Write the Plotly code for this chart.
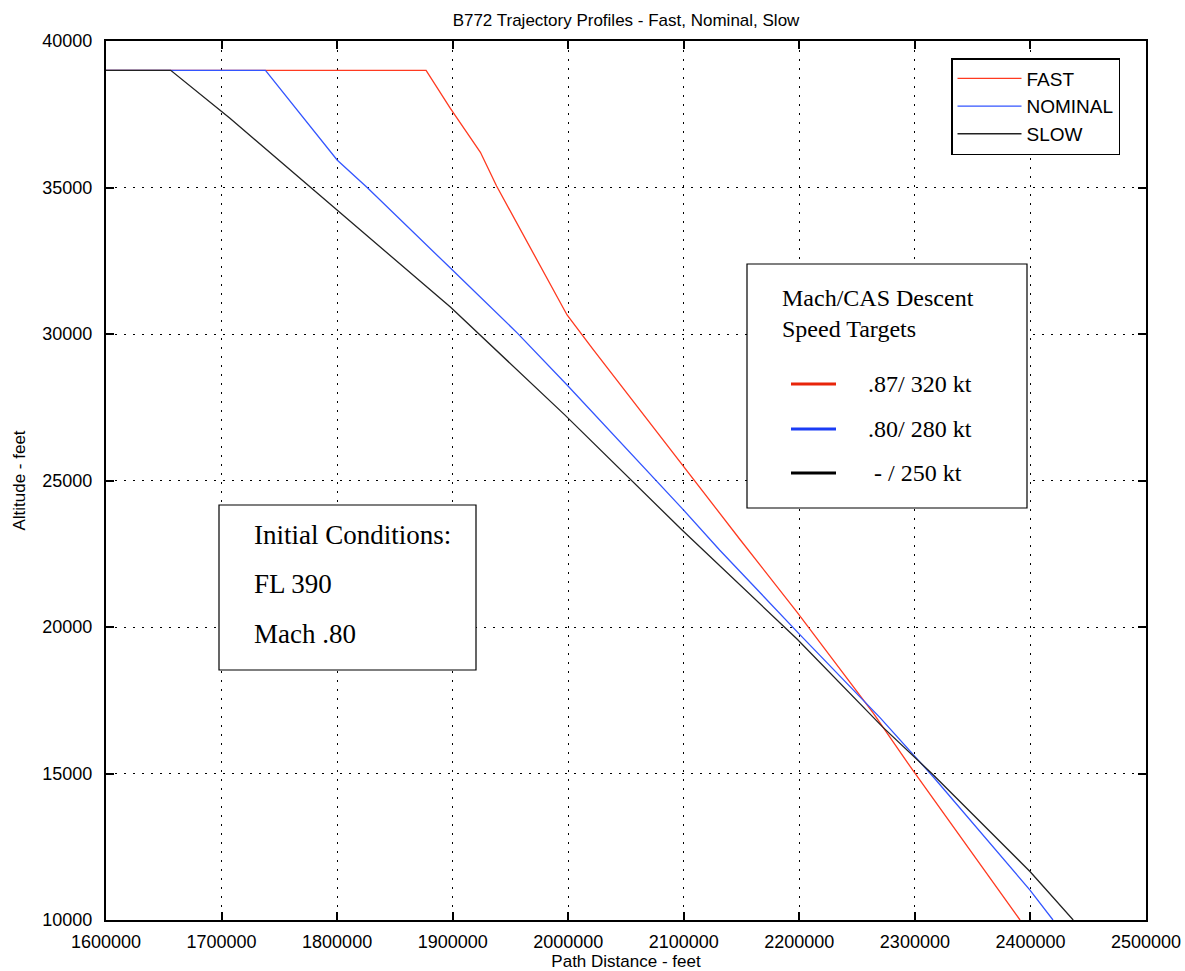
import plotly.graph_objects as go

# ---- data ----
fast_dist = [1600000, 1877000, 1898000, 1924000, 1938000, 1999000, 2021000, 2098500,
             2149000, 2198000, 2264000, 2298000, 2391000]
fast_alt = [39000, 39000, 37700, 36200, 35050, 30650, 29500, 25530,
            22970, 20510, 17060, 15120, 10000]

nominal_dist = [1600000, 1738000, 1800000, 1826000, 1898000, 1956000, 1999000, 2077000,
                2098500, 2131000, 2199000, 2270000, 2316000, 2399600, 2419500]
nominal_alt = [39000, 39000, 35940, 35000, 32250, 30030, 28260, 24950,
               24050, 22630, 19800, 16900, 14880, 11020, 10000]

slow_dist = [1600000, 1656000, 1707000, 1798000, 1898000, 1997000, 2056000,
             2098500, 2198000, 2272000, 2316000, 2400000, 2437000]
slow_alt = [39000, 39000, 37370, 34300, 30920, 27240, 24950,
            23310, 19590, 16590, 14950, 11640, 10000]

x_ticks = [1600000, 1700000, 1800000, 1900000, 2000000, 2100000, 2200000, 2300000, 2400000, 2500000]
y_ticks = [10000, 15000, 20000, 25000, 30000, 35000, 40000]

speed_labels = [".87/ 320 kt", ".80/ 280 kt", "&nbsp;- / 250 kt"]
init_lines = ["Initial Conditions:", "FL 390", "Mach .80"]

SANS = "Liberation Sans, Arial, sans-serif"
SERIF = "Liberation Serif, Times New Roman, serif"

# page body margin is removed by the post script below, so the figure fills the window exactly
W, H = 1185, 971
ML, MR, MT, MB = 106, 39, 41, 51

fig = go.Figure()
fig.add_trace(go.Scatter(x=fast_dist, y=fast_alt, mode="lines", name="FAST",
                         line=dict(color="#ff3a20", width=1.3)))
fig.add_trace(go.Scatter(x=nominal_dist, y=nominal_alt, mode="lines", name="NOMINAL",
                         line=dict(color="#3355ff", width=1.3)))
fig.add_trace(go.Scatter(x=slow_dist, y=slow_alt, mode="lines", name="SLOW",
                         line=dict(color="#222222", width=1.3)))

axis_common = dict(
    showgrid=True, gridcolor="#000000", gridwidth=1, griddash="2px,7px",
    showline=True, linecolor="#000000", linewidth=2, mirror="ticks",
    ticks="inside", ticklen=8, tickwidth=1.5, tickcolor="#000000",
    tickfont=dict(family=SANS, size=18, color="#000000"),
    zeroline=False, tickformat="d", automargin=False,
)

fig.update_layout(
    width=W, height=H, autosize=False,
    margin=dict(l=ML, r=MR, t=MT, b=MB),
    paper_bgcolor="white", plot_bgcolor="white",
    title=dict(text="B772 Trajectory Profiles - Fast, Nominal, Slow",
               x=((106 + 1146) / 2) / W, xanchor="center",
               y=1 - 20 / H, yanchor="middle",
               font=dict(family=SANS, size=17, color="#000000")),
    xaxis=dict(range=[1600000, 2500000], tickvals=x_ticks, ticklabelstandoff=4,
               title=dict(text="Path Distance - feet", standoff=6,
                          font=dict(family=SANS, size=17, color="#000000")),
               **axis_common),
    yaxis=dict(range=[10000, 40000], tickvals=y_ticks, ticklabelstandoff=8,
               title=dict(text="Altitude - feet", standoff=12,
                          font=dict(family=SANS, size=17, color="#000000")),
               **axis_common),
    showlegend=True,
    legend=dict(x=(951 - 106) / 1040, y=(920 - 58) / 879, xanchor="left", yanchor="top",
                bordercolor="#000000", borderwidth=1.5, bgcolor="white",
                font=dict(family=SANS, size=19, color="#000000"),
                itemwidth=64, tracegroupgap=0),
)

def px_x(px):
    return (px - 106) / 1040

def px_y(py):
    return (920 - py) / 879

# Speed targets box
fig.add_shape(type="rect", xref="paper", yref="paper",
              x0=px_x(747), x1=px_x(1027), y0=px_y(508), y1=px_y(264),
              line=dict(color="#000000", width=1.2), fillcolor="white", layer="above")
fig.add_annotation(xref="paper", yref="paper", x=px_x(780), y=px_y(298), xanchor="left",
                   yanchor="middle", showarrow=False, text="Mach/CAS Descent",
                   font=dict(family=SERIF, size=24, color="#000000"))
fig.add_annotation(xref="paper", yref="paper", x=px_x(780), y=px_y(329), xanchor="left",
                   yanchor="middle", showarrow=False, text="Speed Targets",
                   font=dict(family=SERIF, size=24, color="#000000"))
sample_colors = ["#e8250a", "#1a3cf5", "#000000"]
sample_y = [384, 429, 473]
for lab, col, yy in zip(speed_labels, sample_colors, sample_y):
    fig.add_shape(type="line", xref="paper", yref="paper",
                  x0=px_x(791), x1=px_x(836), y0=px_y(yy), y1=px_y(yy),
                  line=dict(color=col, width=3), layer="above")
    fig.add_annotation(xref="paper", yref="paper", x=px_x(866), y=px_y(yy), xanchor="left",
                       yanchor="middle", showarrow=False, text=lab,
                       font=dict(family=SERIF, size=24, color="#000000"))

# Initial conditions box
fig.add_shape(type="rect", xref="paper", yref="paper",
              x0=px_x(219), x1=px_x(476), y0=px_y(670), y1=px_y(505),
              line=dict(color="#000000", width=1.2), fillcolor="white", layer="above")
for txt, yy in zip(init_lines, [535, 584, 634]):
    fig.add_annotation(xref="paper", yref="paper", x=px_x(252), y=px_y(yy), xanchor="left",
                       yanchor="middle", showarrow=False, text=txt,
                       font=dict(family=SERIF, size=27, color="#000000"))

fig.write_html(
    "out.html",
    config={"displayModeBar": False},
    post_script="document.body.style.margin='0';document.body.style.overflow='hidden';",
)
